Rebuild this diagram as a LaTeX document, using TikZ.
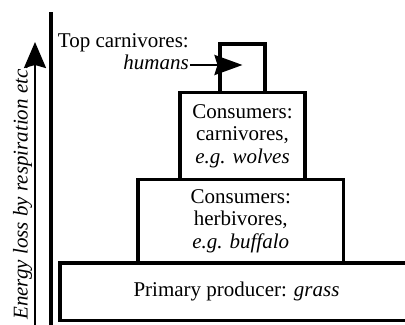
\documentclass[tikz,border=0pt]{standalone}
\usepackage{fontspec}
\setmainfont{Liberation Serif}
\usetikzlibrary{arrows.meta}
\tikzset{
  lvlbox/.style={draw, line width=3.2bp, inner sep=0pt, align=center, fill=white},
  txt/.style={font=\rmfamily\fontsize{21bp}{22.5bp}\selectfont},
  bigtip/.tip={Stealth[length=26bp, width=22bp, inset=3bp]},
  humtip/.tip={Stealth[length=28bp, width=20bp, inset=3bp]},
  bigarrow/.style={line width=2.3bp, -bigtip},
}
\begin{document}
\begin{tikzpicture}[x=1bp,y=1bp]
\useasboundingbox (0,0) rectangle (405,325);
% levels
\node[lvlbox, txt, minimum width=353bp, minimum height=57.5bp] (prod) at (236.5,33.25) {Primary producer: \textit{grass}};
\node[lvlbox, txt, minimum width=205.5bp, minimum height=83.5bp] (herb) at (240.75,103.75) {Consumers:\\herbivores,\\\textit{e.g. buffalo}};
\node[lvlbox, txt, minimum width=125bp, minimum height=87bp] (carn) at (242.5,189) {Consumers:\\carnivores,\\\textit{e.g. wolves}};
\node[lvlbox, minimum width=45bp, minimum height=48.5bp] (topbox) at (242.5,256.75) {};
% top label
\node[txt, anchor=base east, align=right, inner sep=0pt] (toplab) at (189,255.5) {Top carnivores:\\\textit{humans}};
\coordinate (harrow) at (190,260);
\draw[line width=2.8bp, -humtip] (harrow) -- (harrow -| topbox.center);
% axis
\coordinate (axb) at (51,0);
\coordinate (axt) at (51,313);
\draw[line width=3.5bp] (axb) -- (axt);
% energy arrow
\coordinate (abot) at (35,0);
\coordinate (atop) at (35,283);
\draw[bigarrow] (abot) -- (atop);
\node[txt, rotate=90, anchor=base, inner sep=0pt] (elab) at (27.5,133) {\textit{Energy loss by respiration etc.}};
\end{tikzpicture}
\end{document}
